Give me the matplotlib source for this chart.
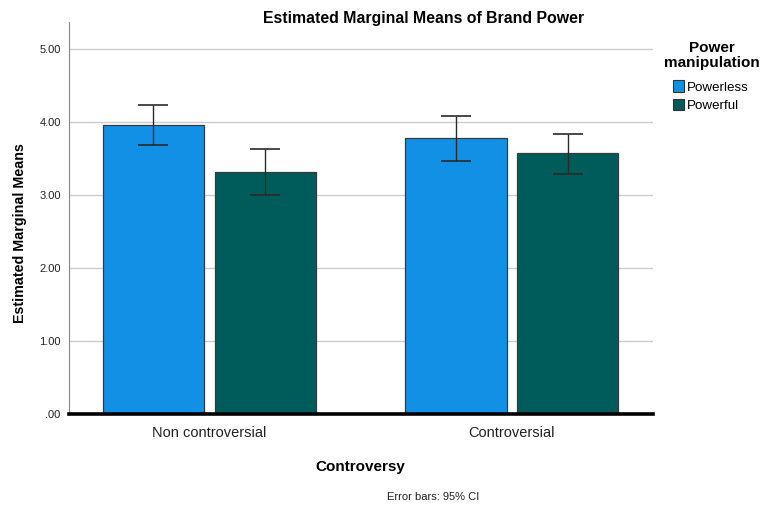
import matplotlib
matplotlib.use("Agg")
import matplotlib.pyplot as plt
import numpy as np
from matplotlib.patches import Patch

plt.rcParams["font.family"] = ["Liberation Sans", "DejaVu Sans"]

categories = ["Non controversial", "Controversial"]
groups = ["Powerless", "Powerful"]
means = {
    "Powerless": [3.96, 3.78],
    "Powerful": [3.32, 3.57],
}
ci_low = {
    "Powerless": [3.68, 3.47],
    "Powerful": [3.00, 3.29],
}
ci_high = {
    "Powerless": [4.23, 4.08],
    "Powerful": [3.63, 3.84],
}
colors = {"Powerless": "#1190e6", "Powerful": "#005c5a"}

fig = plt.figure(figsize=(7.64, 5.08), dpi=100)
ax = fig.add_axes([0.0903, 0.1856, 0.7644, 0.771])

x = np.arange(len(categories))
width = 0.334
offsets = [-0.185, 0.185]
for g, off in zip(groups, offsets):
    m = np.array(means[g])
    lo = m - np.array(ci_low[g])
    hi = np.array(ci_high[g]) - m
    ax.bar(x + off, m, width, color=colors[g], edgecolor="#3a3a3a",
           linewidth=0.9, zorder=3)
    ax.errorbar(x + off, m, yerr=[lo, hi], fmt="none", ecolor="#2a2a2a",
                elinewidth=1.0, capsize=10.5, capthick=1.2, zorder=4)

ax.set_xlim(-0.464, 1.466)
ax.set_ylim(0, 5.37)
ax.set_yticks([0, 1, 2, 3, 4, 5])
ax.set_yticklabels([".00", "1.00", "2.00", "3.00", "4.00", "5.00"], fontsize=8,
                   color="#222222")
ax.set_xticks(x)
ax.set_xticklabels(categories, fontsize=10.5, color="#222222")
ax.tick_params(axis="both", length=0, pad=6)
ax.tick_params(axis="x", pad=9)
ax.yaxis.grid(True, color="#cccccc", linewidth=1.0, zorder=0)
ax.set_axisbelow(True)
for side in ["top", "right", "bottom"]:
    ax.spines[side].set_visible(False)
ax.spines["left"].set_color("#888888")
ax.spines["left"].set_linewidth(0.8)
ax.axhline(0, color="black", linewidth=2.6, zorder=5, clip_on=False)

ax.set_ylabel("Estimated Marginal Means", fontsize=10.3, fontweight="bold")
ax.yaxis.set_label_coords(-0.072, 0.461)
fig.text(0.471, 0.081, "Controversy", fontsize=11, fontweight="bold",
         ha="center", va="center")
fig.text(0.555, 0.963, "Estimated Marginal Means of Brand Power",
         fontsize=11.4, fontweight="bold", ha="center", va="center")
fig.text(0.567, 0.021, "Error bars: 95% CI", fontsize=8, ha="center",
         va="center", color="#222222")

# legend: centred bold title, entries listed beneath it
fig.text(0.932, 0.891, "Power\nmanipulation", fontsize=11, fontweight="bold",
         ha="center", va="center", linespacing=1.05)
handles = [Patch(facecolor=colors[g], edgecolor="#333333", linewidth=0.8)
           for g in groups]
fig.legend(handles, groups, loc="upper left",
           bbox_to_anchor=(0.881, 0.842), frameon=False, fontsize=9.6,
           handlelength=0.85, handleheight=0.95, handletextpad=0.2,
           labelspacing=0.4, borderpad=0, borderaxespad=0)

fig.savefig("out.png", dpi=100)
